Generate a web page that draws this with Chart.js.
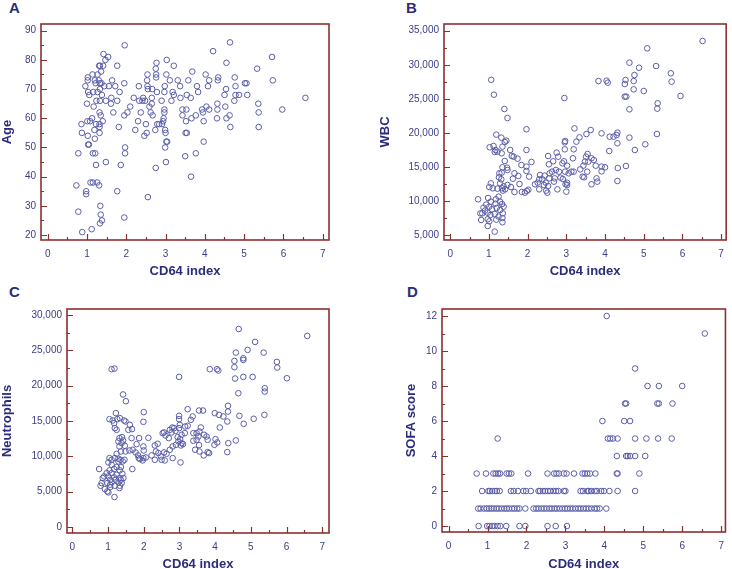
<!DOCTYPE html>
<html>
<head>
<meta charset="utf-8">
<script src="https://cdn.jsdelivr.net/npm/chart.js@4/dist/chart.umd.min.js"></script>
<style>
  html, body { margin: 0; padding: 0; background: #fff; width: 732px; height: 569px; overflow: hidden; }
  canvas { position: absolute; }
  .tag { position: absolute; font: bold 15px "Liberation Sans", Arial, sans-serif; color: #2b2d7c; line-height: 15px; }
</style>
</head>
<body>
<div class="tag" style="left:9px;top:0">A</div>
<div class="tag" style="left:406px;top:0">B</div>
<div class="tag" style="left:9px;top:284px">C</div>
<div class="tag" style="left:407px;top:284px">D</div>
<canvas id="chartA" width="366" height="280" style="left:0;top:0"></canvas>
<canvas id="chartB" width="366" height="280" style="left:366px;top:0"></canvas>
<canvas id="chartC" width="366" height="295" style="left:0;top:280px"></canvas>
<canvas id="chartD" width="366" height="295" style="left:366px;top:280px"></canvas>
<script>
// CD64 index vs age / WBC / neutrophils / SOFA score

const xTicks = [0, 1, 2, 3, 4, 5, 6, 7];

// A - Age
const ageX = [0.73,0.78,0.78,0.88,0.86,0.87,0.96,0.98,0.98,1.00,1.02,1.02,1.01,1.02,1.03,1.05,1.03,1.06,1.08,1.09,
  1.15,1.12,1.14,1.13,1.15,1.21,1.16,1.17,1.19,1.20,1.23,1.20,1.22,1.23,1.26,1.24,1.27,1.27,1.30,1.31,
  1.31,1.33,1.32,1.32,1.32,1.32,1.33,1.33,1.33,1.34,1.35,1.33,1.38,1.35,1.36,1.37,1.38,1.40,1.42,1.41,
  1.44,1.47,1.48,1.48,1.54,1.56,1.61,1.62,1.64,1.67,1.72,1.77,1.77,1.77,1.81,1.83,1.86,1.96,1.95,1.95,
  1.97,1.97,1.95,2.03,2.10,2.19,2.23,2.30,2.32,2.33,2.37,2.41,2.43,2.46,2.48,2.50,2.52,2.54,2.53,2.54,
  2.55,2.55,2.59,2.62,2.65,2.65,2.66,2.67,2.75,2.75,2.76,2.77,2.76,2.78,2.74,2.79,2.84,2.91,2.90,2.94,
  2.95,2.97,2.97,2.97,2.98,2.99,2.99,3.01,3.00,3.02,3.02,3.03,3.04,3.11,3.15,3.18,3.21,3.21,3.31,3.37,
  3.38,3.43,3.43,3.50,3.51,3.54,3.52,3.53,3.54,3.58,3.64,3.65,3.66,3.68,3.77,3.77,3.80,3.83,3.93,3.95,
  3.97,3.97,4.02,4.04,4.08,4.11,4.11,4.21,4.31,4.32,4.32,4.33,4.34,4.50,4.52,4.54,4.55,4.55,4.63,4.64,
  4.65,4.75,4.76,4.78,4.78,4.87,5.02,5.06,5.08,5.33,5.36,5.37,5.37,5.71,5.73,5.97,6.56];
const ageY = [37,48,28,21,58,55,71,35,34,65,74,73,59,54,51,51,69,68,59,38,
  38,22,75,60,48,48,69,64,56,53,58,73,72,44,38,66,69,75,73,37,
  78,78,58,55,57,62,66,70,72,30,27,24,25,61,76,72,68,59,82,78,
  71,80,45,66,81,71,65,67,73,62,71,66,35,78,57,69,44,85,72,61,
  50,48,26,62,64,67,56,59,71,66,62,66,67,54,66,58,55,75,73,71,
  70,33,64,62,65,67,70,61,77,43,74,79,75,69,56,58,58,58,66,59,
  60,69,63,62,71,56,50,45,55,52,75,80,52,73,66,69,78,68,73,71,
  67,63,61,47,55,55,59,63,68,73,67,40,60,76,61,48,71,69,63,62,
  59,52,75,64,71,73,63,83,60,65,63,73,74,68,64,70,79,60,61,86,
  57,66,74,71,68,68,72,72,68,77,65,62,57,81,73,63,67];

// B - WBC
const wbcX = [1.06,1.13,1.40,1.48,2.95,1.97,1.19,1.32,1.45,1.02,1.12,1.17,1.15,1.22,1.35,1.41,1.59,1.64,1.55,1.97,
  1.33,1.74,1.41,1.84,2.10,1.35,1.47,1.33,1.27,1.48,1.97,1.97,1.26,1.32,1.66,1.76,2.04,1.29,1.05,1.62,
  1.79,1.48,1.10,1.38,1.34,1.42,1.22,1.36,1.57,1.66,1.85,1.93,2.02,1.01,1.25,0.98,0.72,1.18,1.29,1.17,
  1.05,1.34,0.93,0.86,1.01,1.38,1.20,1.08,1.29,0.90,0.83,0.97,1.15,1.36,1.25,1.04,0.78,0.97,0.80,1.35,
  1.01,1.19,1.35,0.97,1.15,
  1.98,2.19,2.26,2.30,2.32,2.30,2.38,2.42,2.44,2.47,2.48,2.51,2.53,2.53,2.55,2.56,2.57,2.63,2.66,2.68,
  2.70,2.73,2.75,2.77,2.79,2.81,2.85,2.90,2.91,2.94,2.96,2.97,2.96,2.97,2.98,3.00,3.02,3.02,3.02,3.06,
  3.13,3.17,3.19,3.19,3.21,3.26,3.34,3.36,3.42,3.44,3.46,3.48,3.51,3.52,3.54,3.55,3.57,3.63,3.65,3.65,
  3.71,3.76,3.78,3.80,3.83,3.91,3.91,3.91,4.00,4.04,4.07,4.11,4.12,4.22,4.30,4.32,4.32,4.33,4.32,4.51,
  4.51,4.55,4.53,4.54,4.63,4.63,4.63,4.74,4.74,4.76,4.77,4.88,5.00,5.04,5.09,5.32,5.36,5.35,5.34,5.70,
  5.72,5.95,6.52];
const wbcY = [27800,25620,23520,22200,25130,20540,19760,19320,18880,17900,18090,17510,17220,17260,18000,18680,16630,16530,17510,17510,
  17020,16240,15900,15310,15750,14970,14920,14190,14090,14580,15070,14430,13500,13210,14090,13700,13600,12620,12620,13300,
  12520,12380,11890,12180,11890,11740,11840,11550,12080,11350,11350,11250,11690,12080,10670,10470,10280,10280,9930,9640,
  9930,9590,9500,9060,9200,9200,9010,8810,8710,8620,8220,8320,8130,8220,7740,7980,8220,7350,7250,7540,
  7050,7300,6910,6370,5540,
  11500,12480,12720,11740,13840,13210,13210,12380,13750,12720,11550,11250,16630,12230,15410,13350,14090,14330,15850,12870,
  13350,14580,17120,11740,16530,14330,13450,15550,13260,15850,17610,18830,18630,14330,12480,11400,15210,12720,12380,14090,
  14330,16290,14330,17610,20680,18730,19360,14670,13600,15210,13500,15800,16530,19850,14330,16920,15800,20440,12480,16290,
  16040,15210,13350,12870,27620,19950,14380,15070,14970,27670,27380,17360,19460,19460,19710,20050,18490,14870,12960,27180,
  25330,25330,27770,15160,30310,23470,19320,26400,27620,28500,17510,29570,26160,18340,32410,29820,24350,23570,19850,28750,
  27530,25430,33490];

// C - Neutrophils
const neutX = [1.42,1.50,2.00,1.99,1.22,1.04,1.13,1.17,1.26,1.33,1.45,1.49,1.19,1.24,1.61,1.67,1.57,1.32,1.39,1.29,
  1.38,1.42,1.66,1.87,2.13,1.32,1.47,1.80,1.99,2.00,2.31,2.39,2.53,2.73,2.78,2.99,2.99,3.23,3.01,2.99,
  3.15,3.06,1.60,1.69,1.36,1.24,1.49,1.77,1.84,1.86,1.99,2.06,2.22,2.34,2.41,2.48,2.57,2.64,2.73,2.81,
  2.90,2.97,3.06,2.81,3.03,2.31,2.50,2.59,1.97,1.89,1.04,1.10,1.19,1.29,1.35,1.41,1.29,1.46,1.01,0.75,
  1.68,1.10,1.24,1.36,1.04,1.17,1.33,0.96,1.10,1.24,1.40,0.89,1.01,1.17,1.32,1.43,0.85,1.06,1.21,1.36,
  0.82,0.98,1.10,1.29,1.38,0.79,1.06,1.19,1.33,0.91,1.06,1.32,0.98,1.01,1.18,
  1.10,1.18,2.99,3.37,3.32,3.16,3.23,3.39,3.55,3.66,3.60,3.56,3.48,3.53,3.48,3.69,3.76,3.79,3.39,3.44,
  3.56,3.68,3.55,3.79,3.83,3.85,3.99,4.05,4.09,4.11,4.23,4.13,4.01,3.98,4.06,4.36,4.36,4.34,4.37,4.34,
  4.54,4.54,4.58,4.56,4.58,4.66,4.65,4.68,4.79,4.79,4.79,4.80,4.91,5.05,5.08,5.12,5.36,5.39,5.39,5.38,
  5.73,5.74,6.01,6.58,
  2.57,2.61,2.70,2.80,2.85,2.89,2.95,3.02,3.04,3.10];
const neutY = [18750,17800,16250,14880,16110,15260,15070,14700,15260,15400,15070,14930,13990,13750,14460,13850,13750,12580,12720,12110,
  11870,12250,12580,12580,12620,11400,11490,11730,11400,10830,11540,11780,13280,13750,13380,15730,15260,16670,14460,13990,
  13280,13050,10830,10930,10690,10360,10690,10550,10130,9750,9750,9840,10130,10690,10460,9990,10550,10360,10930,11400,
  11630,12110,11870,9750,9140,9510,9510,9420,9420,9610,9750,9510,9750,9660,9510,9280,9280,9510,9140,8200,
  8200,8810,8480,8480,8010,8200,8010,7630,7630,7390,7540,7160,7160,7020,6920,6920,6920,6690,6690,6690,
  6220,6220,6310,6310,6220,5840,5980,5840,5840,5370,5650,5510,5040,4900,4240,
  22330,22420,21240,15640,15170,14220,14320,13280,16480,16480,14080,13520,13280,12810,12340,13050,12810,12340,12200,10930,
  10690,10130,11590,10600,10460,22330,16110,22330,22140,15870,15640,14080,12430,11630,11960,17140,16340,14930,11870,10600,
  23500,22610,24680,21010,12250,28020,18930,15730,23880,23640,21240,14600,25060,21240,15310,26190,24680,19640,19170,15870,
  23360,22560,21050,27040,
  13380,12950,12580,14080,13990,13610,12720,12430,11540,11730];

// D - SOFA score: one list of CD64 values per score level
const sofaLevels = [0, 1, 2, 3, 4, 5, 6, 7, 8, 9, 11, 12];
const sofaX = [
  [0.77,0.99,1.05,1.12,1.18,1.26,1.33,1.48,1.82,1.97,2.54,2.75,3.04],
  [0.76,0.82,0.91,0.98,1.04,1.10,1.16,1.23,1.29,1.36,1.43,1.49,1.55,1.63,1.69,1.76,1.82,1.97,2.18,2.25,
   2.31,2.38,2.45,2.52,2.59,2.65,2.72,2.78,2.85,2.92,2.99,3.05,3.12,3.19,3.26,3.33,3.39,3.46,3.53,3.60,
   3.67,3.75,3.81,3.88,4.05],
  [0.86,1.02,1.06,1.12,1.19,1.24,1.31,1.60,1.67,1.78,1.92,1.99,2.11,2.31,2.35,2.42,2.48,2.55,2.61,2.69,
   2.76,2.82,2.96,3.00,3.39,3.45,3.56,3.60,3.66,3.75,3.81,3.92,3.99,4.13,4.34,4.79],
  [0.72,0.96,1.15,1.21,1.27,1.32,1.49,1.55,1.61,2.04,2.54,2.71,2.77,2.83,2.96,3.03,3.22,3.44,3.50,3.56,
   3.63,3.77,4.32,4.34,4.90],
  [4.32,4.56,4.60,4.66,4.79,5.05],
  [1.26,4.09,4.15,4.22,4.34,4.79,5.08,5.38,5.73],
  [3.95,4.51,4.66],
  [4.53,4.56,5.36,5.40,5.75],
  [5.11,5.40,6.00],
  [4.79],
  [6.58],
  [4.06]
];

const FONT = '"Liberation Sans", Arial, Helvetica, sans-serif';
const INK = '#2b2d7c';
const TICK_INK = '#3a3d88';
const FRAME = '#8a3030';
const DOT = '#5a5ea8';

const framePlugin = {
  id: 'frame',
  afterDatasetsDraw(chart, args, o) {
    const { ctx, chartArea: a, scales: { x, y } } = chart;
    ctx.save();
    ctx.strokeStyle = FRAME;
    ctx.lineWidth = 1.2;
    ctx.beginPath();
    for (let v = 0; v <= 7; v += 0.5) {
      const px = Math.round(x.getPixelForValue(v)) + 0.5;
      const len = v % 1 ? 3 : 6;
      ctx.moveTo(px, a.bottom);
      ctx.lineTo(px, a.bottom - len);
    }
    const half = o.step / 2;
    for (let i = 0; o.min + i * half <= o.max + 1e-9; i++) {
      const py = Math.round(y.getPixelForValue(o.min + i * half)) + 0.5;
      const len = i % 2 ? 3 : 6;
      ctx.moveTo(a.left, py);
      ctx.lineTo(a.left + len, py);
    }
    ctx.stroke();
    ctx.lineWidth = 1.6;
    ctx.strokeRect(a.left, a.top, a.right - a.left, a.bottom - a.top);
    ctx.restore();
  }
};

function range(min, max, step) {
  const out = [];
  for (let v = min; v <= max + 1e-9; v += step) out.push({ value: v });
  return out;
}

function makePanel(id, points, p) {
  new Chart(document.getElementById(id), {
    type: 'scatter',
    data: {
      datasets: [{
        data: points,
        pointStyle: 'circle',
        pointRadius: 2.8,
        pointHoverRadius: 2.8,
        borderWidth: 1,
        borderColor: DOT,
        backgroundColor: 'rgba(0,0,0,0)'
      }]
    },
    options: {
      responsive: false,
      animation: false,
      events: [],
      layout: { padding: { left: 0, top: p.top, right: p.right, bottom: 0 } },
      plugins: {
        legend: { display: false },
        tooltip: { enabled: false },
        frame: { min: p.yMin, max: p.yMax, step: p.yStep }
      },
      scales: {
        x: {
          type: 'linear',
          min: p.xLo, max: p.xHi,
          afterBuildTicks: s => { s.ticks = xTicks.map(v => ({ value: v })); },
          afterFit: s => { s.height = p.xH; },
          grid: { display: false, drawTicks: false },
          border: { display: false },
          ticks: { autoSkip: false, maxRotation: 0, padding: 8, color: TICK_INK, font: { family: FONT, size: 10 } },
          title: { display: true, text: 'CD64 index', color: INK, font: { family: FONT, size: 13, weight: 'bold' }, padding: { top: 0, bottom: p.xTitlePad } }
        },
        y: {
          type: 'linear',
          min: p.yLo, max: p.yHi,
          afterBuildTicks: s => { s.ticks = range(p.yMin, p.yMax, p.yStep); },
          afterFit: s => { s.width = p.yW; },
          grid: { display: false, drawTicks: false },
          border: { display: false },
          ticks: {
            autoSkip: false, padding: 5, color: TICK_INK, font: { family: FONT, size: 10 },
            callback: v => v.toLocaleString('en-US')
          },
          title: { display: true, text: p.yTitle, color: INK, font: { family: FONT, size: 13, weight: 'bold' }, padding: { top: p.yTitlePad, bottom: 0 } }
        }
      }
    },
    plugins: [framePlugin]
  });
}

const zip = (xs, ys) => xs.map((x, i) => ({ x, y: ys[i] }));
const sofaPoints = [];
sofaLevels.forEach((lvl, i) => sofaX[i].forEach(x => sofaPoints.push({ x, y: lvl })));

makePanel('chartA', zip(ageX, ageY), {
  top: 24, right: 37, yW: 41, xH: 40, xTitlePad: 1, yTitlePad: 0, yTitle: 'Age',
  xLo: -0.17, xHi: 7.16, yLo: 18.3, yHi: 92.3, yMin: 20, yMax: 90, yStep: 10
});
makePanel('chartB', zip(wbcX, wbcY), {
  top: 24, right: 3, yW: 78, xH: 40, xTitlePad: 1, yTitlePad: 12, yTitle: 'WBC',
  xLo: -0.16, xHi: 7.13, yLo: 4311, yHi: 35982, yMin: 5000, yMax: 35000, yStep: 5000
});
makePanel('chartC', zip(neutX, neutY), {
  top: 29, right: 37, yW: 67, xH: 42, xTitlePad: 3, yTitlePad: 0, yTitle: 'Neutrophils',
  xLo: -0.15, xHi: 7.19, yLo: -849, yHi: 30849, yMin: 0, yMax: 30000, yStep: 5000
});
makePanel('chartD', sofaPoints, {
  top: 29, right: 4, yW: 76, xH: 43, xTitlePad: 3, yTitlePad: 38, yTitle: 'SOFA score',
  xLo: -0.17, xHi: 7.11, yLo: -0.34, yHi: 12.4, yMin: 0, yMax: 12, yStep: 2
});
</script>
</body>
</html>
